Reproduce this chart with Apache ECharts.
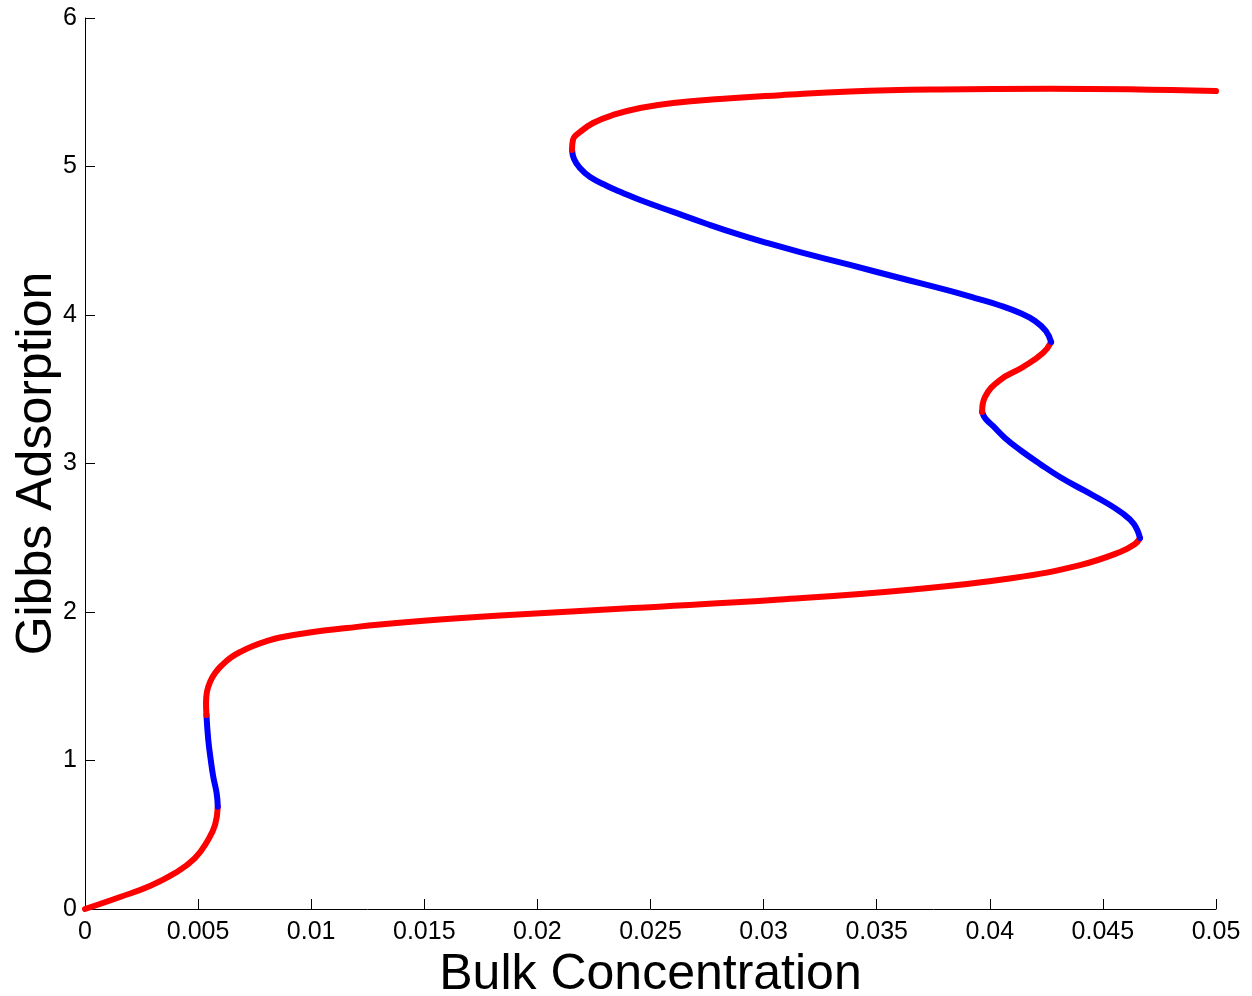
<!DOCTYPE html>
<html>
  <head>
    <meta charset="utf-8">
    <title>Gibbs Adsorption</title>
    <script src="https://cdn.jsdelivr.net/npm/echarts@6/dist/echarts.min.js"></script>
  </head>
  <body style="margin:0;background:#fff;">
    <div id="main" style="width:1252px;height:996px;"></div>
    <script type="text/javascript">
      // curve pieces, [bulk concentration, gibbs adsorption], in drawing order
      var lowRed = [[0, 0], [0.00155, 0.081], [0.00287, 0.155], [0.00398, 0.242], [0.00486, 0.343],
        [0.00544, 0.465], [0.00575, 0.566], [0.00587, 0.689]];
      var lowBlue = [[0.00587, 0.689], [0.00582, 0.779], [0.00567, 0.891], [0.00556, 1.003],
        [0.00545, 1.138], [0.00537, 1.306]];
      var midRed = [[0.00537, 1.306], [0.00535, 1.387], [0.00539, 1.461], [0.00553, 1.529],
        [0.00575, 1.589], [0.00606, 1.643], [0.00645, 1.694], [0.00694, 1.737], [0.00743, 1.771],
        [0.008, 1.802], [0.00862, 1.828], [0.01008, 1.865], [0.01158, 1.892], [0.01304, 1.916],
        [0.01569, 1.949], [0.01835, 1.976], [0.02423, 2.027], [0.03073, 2.084], [0.0366, 2.152],
        [0.04103, 2.229], [0.04399, 2.316], [0.04576, 2.404], [0.04642, 2.458], [0.04664, 2.498]];
      var midBlue = [[0.04664, 2.498], [0.04637, 2.593], [0.04584, 2.667], [0.04509, 2.741],
        [0.04421, 2.815], [0.0431, 2.909], [0.04222, 2.997], [0.04134, 3.091], [0.04067, 3.172],
        [0.04014, 3.253], [0.03979, 3.306], [0.03966, 3.347]];
      var innerRed = [[0.03966, 3.347], [0.03979, 3.448], [0.04045, 3.562], [0.04147, 3.650],
        [0.04235, 3.744], [0.04271, 3.818]];
      var upperBlue = [[0.04271, 3.818], [0.04248, 3.892], [0.042, 3.960], [0.04134, 4.013],
        [0.04045, 4.064], [0.03935, 4.114], [0.03824, 4.162], [0.03603, 4.249], [0.03382, 4.337],
        [0.03161, 4.424], [0.03015, 4.485], [0.02896, 4.539], [0.0275, 4.613], [0.026, 4.694],
        [0.02454, 4.774], [0.02378, 4.822], [0.02308, 4.869], [0.02233, 4.929], [0.02188, 4.990],
        [0.02162, 5.051], [0.02153, 5.111]];
      var topRed = [[0.02153, 5.111], [0.02157, 5.178], [0.02188, 5.232], [0.02246, 5.293],
        [0.02334, 5.347], [0.02454, 5.394], [0.026, 5.428], [0.02807, 5.455], [0.03073, 5.480],
        [0.03382, 5.505], [0.0378, 5.519], [0.04266, 5.524], [0.05, 5.508]];

      var pieces = [
        [lowRed, '#ff0000'], [lowBlue, '#0000ff'], [midRed, '#ff0000'], [midBlue, '#0000ff'],
        [innerRed, '#ff0000'], [upperBlue, '#0000ff'], [topRed, '#ff0000']
      ];

      var font = 'Liberation Sans, Arial, sans-serif';
      var axisCommon = {
        axisLine: { lineStyle: { color: '#000', width: 1 } },
        axisTick: { inside: true, length: 10, lineStyle: { color: '#000', width: 1 } },
        splitLine: { show: false },
        nameTextStyle: { fontFamily: font, fontSize: 50, color: '#000' }
      };

      var myChart = echarts.init(document.getElementById('main'));
      myChart.setOption({
        animation: false,
        backgroundColor: '#fff',
        grid: { left: 85, right: 36, top: 18, bottom: 87, containLabel: false, outerBoundsMode: 'none' },
        xAxis: Object.assign({
          type: 'value',
          min: 0,
          max: 0.05,
          interval: 0.005,
          name: 'Bulk Concentration',
          nameLocation: 'middle',
          nameGap: 34,
          axisLabel: { fontFamily: font, fontSize: 25, color: '#000', margin: 11 }
        }, axisCommon),
        yAxis: Object.assign({
          type: 'value',
          min: 0,
          max: 6,
          interval: 1,
          name: 'Gibbs Adsorption',
          nameLocation: 'middle',
          nameGap: 23,
          nameMoveOverlap: false,
          axisLabel: { fontFamily: font, fontSize: 25, color: '#000', margin: 8 }
        }, axisCommon),
        series: pieces.map(function (p) {
          return {
            type: 'line',
            data: p[0],
            smooth: 0.45,
            symbol: 'none',
            lineStyle: { color: p[1], width: 6, cap: 'round', join: 'round' }
          };
        })
      });
    </script>
  </body>
</html>
